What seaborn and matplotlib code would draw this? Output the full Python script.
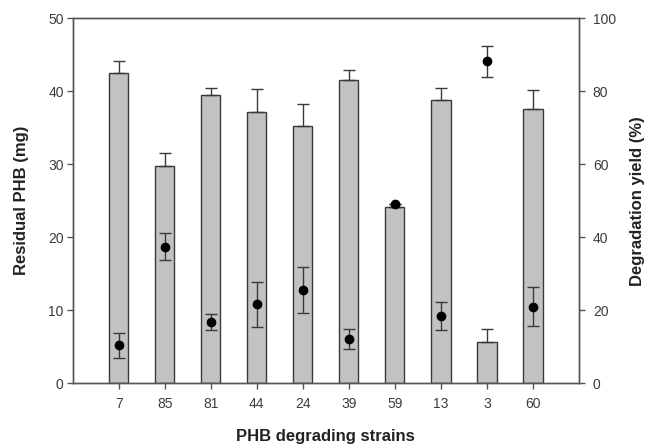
import numpy as np
import pandas as pd
import matplotlib
matplotlib.use("Agg")
import matplotlib.pyplot as plt
import seaborn as sns

strains = ["7", "85", "81", "44", "24", "39", "59", "13", "3", "60"]
residual_phb = [42.5, 29.8, 39.5, 37.2, 35.2, 41.6, 24.2, 38.8, 5.6, 37.6]
residual_err = [1.7, 1.7, 1.0, 3.1, 3.1, 1.3, 0.0, 1.7, 1.9, 2.5]
deg_yield = [10.4, 37.4, 16.8, 21.6, 25.6, 12.2, 49.0, 18.4, 88.2, 21.0]
deg_err = [3.5, 3.7, 2.2, 6.2, 6.3, 2.7, 0.0, 3.8, 4.2, 5.4]

sns.set_theme(style="white")
plt.rcParams['font.family'] = ['Liberation Sans', 'DejaVu Sans']

df = pd.DataFrame({"strain": strains, "phb": residual_phb})

fig = plt.figure(figsize=(6.49, 4.48), dpi=100)
ax = fig.add_axes([0.112, 0.1444, 0.780, 0.815])

sns.barplot(data=df, x="strain", y="phb", order=strains, color="#c2c2c4",
            saturation=1, width=0.42, edgecolor="#3a3a3a", linewidth=1.0, ax=ax)
xpos = np.arange(len(strains))
ax.errorbar(xpos, residual_phb, yerr=[np.zeros(len(strains)), residual_err],
            fmt="none", ecolor="#3a3a3a", elinewidth=1.0, capsize=4, capthick=1.0)

ax.set_xlim(-1, len(strains))
ax.set_ylim(0, 50)
ax.set_yticks([0, 10, 20, 30, 40, 50])

ax2 = ax.twinx()
ax2.errorbar(xpos, deg_yield, yerr=deg_err, fmt="o", color="black", markersize=6,
             ecolor="#3a3a3a", elinewidth=1.0, capsize=4, capthick=1.0)
ax2.set_ylim(0, 100)
ax2.set_yticks([0, 20, 40, 60, 80, 100])

tick_color = "#3c3c3c"
for a in (ax, ax2):
    for s in a.spines.values():
        s.set_color("#555555")
        s.set_linewidth(1.0)
    a.tick_params(axis="both", direction="out", length=4, width=1.0,
                  colors="#555555", labelcolor=tick_color, labelsize=10)
ax.tick_params(axis="x", bottom=True, pad=6)
ax.tick_params(axis="y", left=True, pad=2.5)
ax2.tick_params(axis="y", right=True, pad=6)

ax.set_xlabel("PHB degrading strains", fontsize=12, fontweight="bold",
              color="#222222", labelpad=13)
ax.set_ylabel("Residual PHB (mg)", fontsize=12, fontweight="bold",
              color="#222222", labelpad=14)
ax2.set_ylabel("Degradation yield (%)", fontsize=12, fontweight="bold",
               color="#222222", labelpad=10)

fig.savefig("out.png", dpi=100)
